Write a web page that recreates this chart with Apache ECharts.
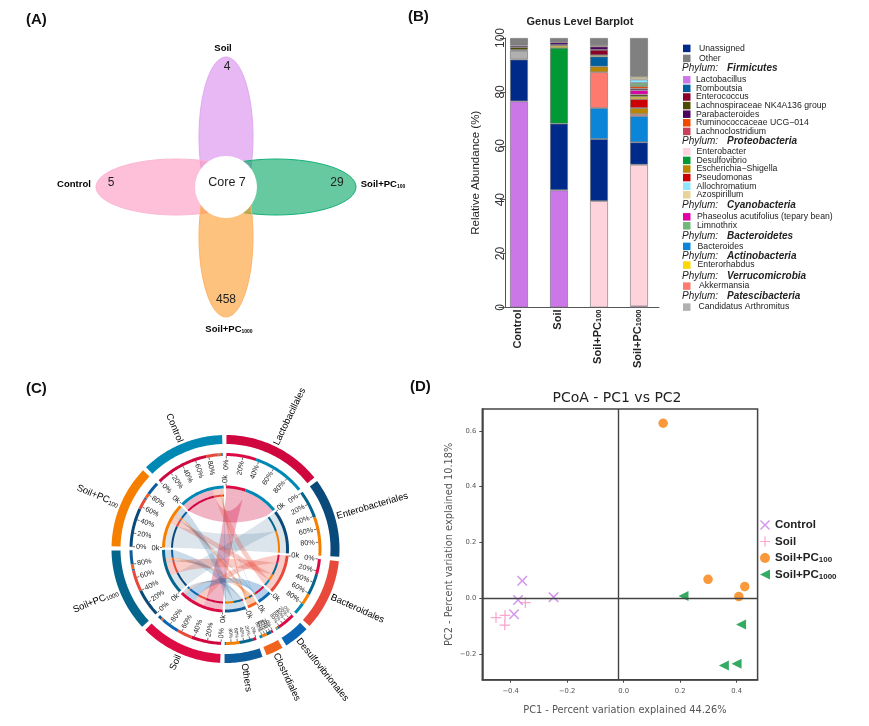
<!DOCTYPE html>
<html><head><meta charset="utf-8">
<style>html,body{margin:0;padding:0;background:#fff}#c{width:869px;height:726px}</style>
<script src="https://cdn.jsdelivr.net/npm/echarts@6/dist/echarts.min.js"></script>
</head><body><div id="c"></div>
<script>
// ---------- (A) Venn data
const vennNames = ['Soil', 'Control', 'Soil+PC100', 'Soil+PC1000'];
const vennCounts = [4, 5, 29, 458];
const vennCore = 7;
// ---------- (B) Barplot data
const barSamples = ['Control', 'Soil', 'Soil+PC100', 'Soil+PC1000'];
const lactobacillus = [76.5, 43.5, null, 0.4];
const enterobacter = [null, null, 39.5, 52.6];
const unassigned = [15.5, 24.7, 23, 8.3];
const desulfovibrio = [null, 28.1, null, null];
const bacteroides = [null, null, 11.5, 9.7];
const akkermansia = [null, null, 13.3, 0.8];
const candidatus = [3.3, null, null, null];
const escherichia = [null, null, 2.1, 2.2];
const romboutsia = [null, null, 3.7, null];
const pseudomonas = [null, null, null, 3.3];
const enterorhabdus = [0.3, 0.8, 0.5, 0.9];
const lachnospiraceae = [1.0, 0.3, null, 0.8];
const enterococcus = [null, null, 2, null];
const phaseolus = [null, null, null, 1.6];
const parabacteroides = [0.6, 1.0, 1.2, 0.6];
const lachnoclostridium = [null, null, 0.5, null];
const ruminococcaceae = [null, null, null, 0.9];
const limnothrix = [null, null, null, 1.2];
const allochromatium = [null, null, null, 1.3];
const azospirillum = [null, null, null, 1.0];
const other = [2.8, 1.6, 2.7, 14.4];
const yTicksBar = [0, 20, 40, 60, 80, 100];
// ---------- (C) Chord data
const taxa = ['Lactobacillales', 'Enterobacteriales', 'Bacteroidales', 'Desulfovibrionales', 'Clostridiales', 'Others'];
const samples = ['Soil', 'Soil+PC1000', 'Soil+PC100', 'Control'];
const lactoLinks = [43.5, 0, 0, 76.5];
const enteroLinks = [0, 40, 56, 0];
const bacteroLinks = [22, 31, 16, 17];
const desulfoLinks = [26, 2, 2, 1];
const clostrLinks = [3, 7, 7, 4];
const othersLinks = [5, 20, 19, 2];
const ringPercents = [0, 20, 40, 60, 80];
// ---------- (D) PCoA data
const pcoaControl = [[-0.359, 0.063], [-0.374, -0.006], [-0.388, -0.057], [-0.248, 0.004]];
const pcoaSoil = [[-0.452, -0.069], [-0.42, -0.061], [-0.421, -0.096], [-0.348, -0.016]];
const pcoaPC100 = [[0.14, 0.627], [0.299, 0.068], [0.429, 0.042], [0.408, 0.006]];
const pcoaPC1000 = [[0.212, 0.008], [0.416, -0.094], [0.40, -0.235], [0.355, -0.241]];
const pcoaXTicks = [-0.4, -0.2, 0, 0.2, 0.4];
const pcoaYTicks = [-0.2, 0, 0.2, 0.4, 0.6];
const pcoaCrossX = -0.024, pcoaCrossY = 0;

// ---------- styles and layout
const SANS = '"Liberation Sans", Arial, sans-serif', DEJA = '"DejaVu Sans", sans-serif';
const subRich = (size, sub, weight, color) => ({
  m: {fontSize: size, fontFamily: SANS, fontWeight: weight, color},
  s: {fontSize: sub, fontFamily: SANS, fontWeight: weight, color, verticalAlign: 'bottom', padding: [0, 0, 0, 0]}
});
const subText = n => {
  const m = /^Soil\+PC(\d+)$/.exec(n);
  return m ? '{m|Soil+PC}{s|' + m[1] + '}' : '{m|' + n + '}';
};
const vennFill = ['rgba(215,137,235,.6)', 'rgba(252,150,190,.6)', 'rgba(0,165,97,.6)', 'rgba(252,153,40,.6)'];
const vennStroke = ['#e0a8f0', '#fbb8d2', '#14b078', '#fdb468'];
const vennEllipse = [[0, 50, 27, 80], [-50, 0, 80, 28], [50, 0, 80, 28], [0, -50, 27, 80]];
const vennCountPos = [[1, 120], [-115, 4], [111, 4], [0, -113]];
const vennNamePos = [[-3, 139], [-152, 3], [157, 3], [3, -142]];

const genusTable = [
  ['Lactobacillus', lactobacillus, '#cc77e8'], ['Enterobacter', enterobacter, '#ffd3dc'],
  ['Unassigned', unassigned, '#002a8a'], ['Desulfovibrio', desulfovibrio, '#009933'],
  ['Bacteroides', bacteroides, '#0a85d8'], ['Akkermansia', akkermansia, '#ff7a6e'],
  ['Candidatus Arthromitus', candidatus, '#b0b0b0'], ['Escherichia\u2212Shigella', escherichia, '#b88600'],
  ['Romboutsia', romboutsia, '#005f9e'], ['Pseudomonas', pseudomonas, '#cc0000'],
  ['Enterorhabdus', enterorhabdus, '#ffd700'], ['Lachnospiraceae NK4A136 group', lachnospiraceae, '#4a4a00'],
  ['Enterococcus', enterococcus, '#8b0028'], ['Phaseolus acutifolius (tepary bean)', phaseolus, '#e000a8'],
  ['Parabacteroides', parabacteroides, '#4b0060'], ['Lachnoclostridium', lachnoclostridium, '#c8405a'],
  ['Ruminococcaceae UCG\u2212014', ruminococcaceae, '#f04a00'], ['Limnothrix', limnothrix, '#6db87a'],
  ['Allochromatium', allochromatium, '#8fe5ff'], ['Azospirillum', azospirillum, '#e8d49a'],
  ['Other', other, '#808080']
];
// each group: names, centre of first row, row pitch, extra text indent
const legendGroups = [
  [['Unassigned', 'Other'], 48.3, 10, 3.5],
  [['Lactobacillus', 'Romboutsia', 'Enterococcus', 'Lachnospiraceae NK4A136 group', 'Parabacteroides', 'Ruminococcaceae UCG\u2212014', 'Lachnoclostridium'], 79.7, 8.6, 0.5],
  [['Enterobacter', 'Desulfovibrio', 'Escherichia\u2212Shigella', 'Pseudomonas', 'Allochromatium', 'Azospirillum'], 151.7, 8.6, 1],
  [['Phaseolus acutifolius (tepary bean)', 'Limnothrix'], 216.7, 9, 1.5],
  [['Bacteroides'], 246.3, 9, 2], [['Enterorhabdus'], 265, 9, 2], [['Akkermansia'], 286, 9, 3.5], [['Candidatus Arthromitus'], 307, 9, 3]
];
const phylumHeaders = [['Firmicutes', 68.7], ['Proteobacteria', 141.7], ['Cyanobacteria', 205], ['Bacteroidetes', 236.3],
  ['Actinobacteria', 256], ['Verrucomicrobia', 276.3], ['Patescibacteria', 296.7]];

// ---------- chord layout, computed from the link table
const linkRows = [lactoLinks, enteroLinks, bacteroLinks, desulfoLinks, clostrLinks, othersLinks];
const taxaColor = ['#d0063f', '#0a4a7a', '#e8493a', '#0a66b5', '#f0641e', '#0d5c9c'];
const sampleColor = ['#dc0b43', '#05668d', '#f77f00', '#0088b5'];
const ribbonAlpha = [.3, .14, .28, .3, .34, .22];
const rgba = (hex, a) => 'rgba(' + [1, 3, 5].map(i => parseInt(hex.substr(i, 2), 16)).join(',') + ',' + a + ')';
const GAP = 2.2, START = 0.5;
const sum = a => a.reduce((x, y) => x + y, 0);
const taxaTot = linkRows.map(sum), sampleTot = samples.map((_, j) => sum(linkRows.map(r => r[j])));
const unit = (360 - 10 * GAP) / (sum(taxaTot) + sum(sampleTot));
const sectors = []; let ang = START;
taxa.forEach((n, i) => { sectors.push({n, a1: ang, a2: ang + taxaTot[i] * unit, c: taxaColor[i]}); ang += taxaTot[i] * unit + GAP; });
samples.forEach((n, j) => { sectors.push({n, a1: ang, a2: ang + sampleTot[j] * unit, c: sampleColor[j]}); ang += sampleTot[j] * unit + GAP; });
const links = [], rings = [];
const sampleCursor = samples.map((_, j) => sectors[taxa.length + j].a1);
taxa.forEach((n, i) => {
  let cur = sectors[i].a1;
  samples.forEach((s, j) => {
    const v = linkRows[i][j]; if (!v) return;
    const w = v * unit;
    links.push({t: i, s: j, a1: cur, a2: cur + w, b1: sampleCursor[j], b2: sampleCursor[j] + w, v});
    cur += w; sampleCursor[j] += w;
  });
});
links.forEach(l => {
  rings.push([93, 96, l.a1, l.a2, sampleColor[l.s]]);
  rings.push([93, 96, l.b1, l.b2, taxaColor[l.t]]);
  if (l.t === 0) rings.push([60.5, 63.5, l.a1, l.a2, sampleColor[l.s]]);
  else rings.push([52.5, 54.5, l.a1, l.a2, sampleColor[l.s]]);
  rings.push([52.5, 54.5, l.b1, l.b2, taxaColor[l.t]]);
});
sectors.forEach((s, i) => {
  rings.push([105, 114, s.a1, s.a2, s.c]);
  if (i !== 0) rings.push([60.5, 63.5, s.a1, s.a2, s.c]);
});
const chordTexts = [], chordTicks = [];
sectors.forEach((s, i) => {
  const mid = (s.a1 + s.a2) / 2, small = (i >= 3 && i <= 5);
  chordTexts.push({r: 116, a: mid, text: s.n, size: 9.5, rich: true});
  chordTexts.push({r: 66, a: s.a1 - 0.8, text: '0k', size: 7.5, ok: true});
  chordTicks.push([63.5, 65.5, s.a1]);
  ringPercents.forEach(p => {
    const a = s.a1 + (s.a2 - s.a1) * p / 100;
    chordTexts.push({r: 89.5, a, text: p + '%', size: small ? 5 : 7.2, pct: true});
    chordTicks.push([90.5, 93, a]);
  });
});

const pts = (api, r, a1, a2) => {
  const out = [], n = Math.max(2, Math.ceil(Math.abs(a2 - a1)));
  for (let k = 0; k <= n; k++) out.push(api.coord([r, a1 + (a2 - a1) * k / n]));
  return out;
};
const bez = (p0, c, p1) => {
  const out = [];
  for (let k = 1; k < 30; k++) {
    const t = k / 30, u = 1 - t;
    out.push([u * u * p0[0] + 2 * u * t * c[0] + t * t * p1[0], u * u * p0[1] + 2 * u * t * c[1] + t * t * p1[1]]);
  }
  return out;
};
const ctrl = (o, p, q) => [o[0] + ((p[0] + q[0]) / 2 - o[0]) * .5, o[1] + ((p[1] + q[1]) / 2 - o[1]) * .5];
const LEFT_TRIANGLE = 'path://M10,0L10,10L0,5Z';

const option = {
  animation: false,
  backgroundColor: '#ffffff',
  textStyle: {fontFamily: SANS},
  title: [
    {text: 'Genus Level Barplot', left: 580, top: 16, textAlign: 'center', padding: 0,
      textStyle: {fontSize: 11, fontWeight: 'bold', color: '#222', fontFamily: SANS}},
    {text: 'PCoA - PC1 vs PC2', left: 617, top: 391, textAlign: 'center', padding: 0,
      textStyle: {fontSize: 14, fontWeight: 'normal', color: '#222', fontFamily: DEJA}}
  ],
  grid: [
    {left: 96, top: 57, width: 260, height: 260, show: false},
    {left: 499, top: 38, width: 160, height: 269.5, show: false},
    {left: 482.3, top: 409, width: 275.3, height: 270.7, show: true, borderColor: '#444', borderWidth: 1.5, backgroundColor: '#fff'}
  ],
  xAxis: [
    {gridIndex: 0, type: 'value', min: -130, max: 130, show: false},
    {gridIndex: 1, type: 'category', data: barSamples,
      axisLine: {lineStyle: {color: '#555', width: 1}}, axisTick: {show: false},
      axisLabel: {rotate: 90, margin: 2, interval: 0, color: '#222', padding: [0, 0, 3, 0], formatter: subText, rich: subRich(11, 7.5, 'bold', '#222')}},
    {gridIndex: 2, type: 'value', min: -0.5005, max: 0.4745, splitLine: {show: false},
      name: 'PC1 - Percent variation explained 44.26%', nameLocation: 'middle', nameGap: 26,
      nameTextStyle: {fontSize: 9.8, color: '#555', fontFamily: DEJA, padding: [0, 0, 0, 10]},
      axisLine: {onZero: false, lineStyle: {color: '#444', width: 1.5}},
      axisTick: {customValues: pcoaXTicks, length: 3, lineStyle: {color: '#444'}},
      axisLabel: {customValues: pcoaXTicks, fontSize: 6.8, color: '#555', fontFamily: DEJA, margin: 8,
        formatter: v => v.toFixed(1).replace('-', '\u2212')}}
  ],
  yAxis: [
    {gridIndex: 0, type: 'value', min: -130, max: 130, show: false},
    {gridIndex: 1, type: 'value', min: 0, max: 100, interval: 20, offset: -6, splitLine: {show: false},
      name: 'Relative Abundance (%)', nameLocation: 'middle', nameGap: 23,
      nameTextStyle: {fontSize: 11.5, color: '#222', fontFamily: SANS},
      axisLine: {show: true, lineStyle: {color: '#555'}},
      axisTick: {show: true, length: 5, lineStyle: {color: '#555'}},
      axisLabel: {rotate: 90, fontSize: 12, color: '#333', margin: 4, fontFamily: SANS,
        customValues: yTicksBar, verticalAlign: 'middle', align: 'center'}},
    {gridIndex: 2, type: 'value', min: -0.2917, max: 0.678, splitLine: {show: false},
      name: 'PC2 - Percent variation explained 10.18%', nameLocation: 'middle', nameGap: 28,
      nameTextStyle: {fontSize: 9.8, color: '#555', fontFamily: DEJA},
      axisLine: {onZero: false, lineStyle: {color: '#444', width: 1.5}},
      axisTick: {customValues: pcoaYTicks, length: 3, lineStyle: {color: '#444'}},
      axisLabel: {customValues: pcoaYTicks, fontSize: 6.8, color: '#555', fontFamily: DEJA, margin: 6,
        formatter: v => v.toFixed(1).replace('-', '\u2212')}}
  ],
  polar: {center: [225.5, 549], radius: [0, 114]},
  radiusAxis: {type: 'value', min: 0, max: 114, show: false},
  angleAxis: {type: 'value', min: 0, max: 360, startAngle: 90, clockwise: true, show: false},
  legend: legendGroups.flatMap(g => g[0].map((name, k) => ({
    data: [name], selectedMode: false, orient: 'vertical', left: 683, top: g[1] + k * g[2] - 4.4, padding: 0,
    itemWidth: 7.5, itemHeight: 7.5, icon: 'rect',
    itemStyle: {borderWidth: 0},
    textStyle: {fontSize: 8.7, color: '#222', fontFamily: SANS, lineHeight: 9, fontWeight: 500, padding: [0, 0, 0, g[3]]}
  }))).concat([{
    data: ['Control', 'Soil', 'Soil+PC100', 'Soil+PC1000'].map(n => ({name: n + ' '})),
    selectedMode: false, orient: 'vertical', left: 760, top: 519, padding: 0,
    itemWidth: 10, itemHeight: 11, itemGap: 4.5,
    formatter: n => subText(n.trim()),
    textStyle: {fontSize: 11.5, fontWeight: 'bold', color: '#222', rich: subRich(11.5, 8, 'bold', '#222')}
  }]),
  graphic: [
    ...[['(A)', 26, 20], ['(B)', 408, 17], ['(C)', 26, 389], ['(D)', 410, 387]].map(p => ({
      type: 'text', x: p[1], y: p[2],
      style: {text: p[0], fill: '#111', font: 'bold 15px ' + SANS, verticalAlign: 'middle'}})),
    ...phylumHeaders.flatMap(h => [
      {type: 'text', x: 682, y: h[1], style: {text: 'Phylum:', fill: '#222', font: 'italic 500 10px ' + SANS, verticalAlign: 'middle'}},
      {type: 'text', x: 727, y: h[1], style: {text: h[0], fill: '#222', font: 'italic bold 10px ' + SANS, verticalAlign: 'middle'}}
    ])
  ],
  series: [
    // ----- A: ellipses
    {type: 'custom', name: 'venn', coordinateSystem: 'cartesian2d', xAxisIndex: 0, yAxisIndex: 0, silent: true,
      data: vennCounts.map((v, i) => [vennEllipse[i][0], vennEllipse[i][1], v]),
      renderItem(params, api) {
        const i = params.dataIndex, e = vennEllipse[i];
        const c = api.coord([e[0], e[1]]), s = api.size([e[2], e[3]]);
        const np = api.coord(vennNamePos[i]), cp = api.coord(vennCountPos[i]);
        return {type: 'group', children: [
          {type: 'ellipse', shape: {cx: c[0], cy: c[1], rx: s[0], ry: s[1]},
            style: {fill: vennFill[i], stroke: vennStroke[i], lineWidth: 1}},
          {type: 'text', x: cp[0], y: cp[1], z2: 5, style: {text: String(api.value(2)), fill: '#222', font: '500 12px ' + SANS, align: 'center', verticalAlign: 'middle'}},
          {type: 'text', x: np[0], y: np[1], z2: 5, style: {text: subText(vennNames[i]), align: 'center', verticalAlign: 'middle',
            rich: subRich(9.5, 5, 'bold', '#333')}}
        ]};
      }},
    {type: 'custom', name: 'core', coordinateSystem: 'cartesian2d', xAxisIndex: 0, yAxisIndex: 0, silent: true, z: 3,
      data: [[0, 0, vennCore]],
      renderItem(params, api) {
        const c = api.coord([0, 0]), r = api.size([31, 31]), t = api.coord([1, 4]);
        return {type: 'group', children: [
          {type: 'circle', shape: {cx: c[0], cy: c[1], r: r[0]}, style: {fill: '#fff'}},
          {type: 'text', x: t[0], y: t[1], z2: 5, style: {text: 'Core ' + api.value(2), fill: '#222', font: '500 12.5px ' + SANS, align: 'center', verticalAlign: 'middle'}}
        ]};
      }},
    // ----- B: stacked bars
    ...genusTable.map(g => ({
      type: 'bar', name: g[0], stack: 'genus', xAxisIndex: 1, yAxisIndex: 1, data: g[1], barWidth: 18, silent: true,
      itemStyle: {color: g[2], borderColor: 'rgba(110,110,110,.75)', borderWidth: 0.8}
    })),
    // ----- C: ribbons, rings, ticks, labels
    {type: 'custom', name: 'ribbons', coordinateSystem: 'polar', silent: true,
      data: links.map(l => [l.t, l.s, l.v]),
      renderItem(params, api) {
        const l = links[params.dataIndex], o = api.coord([0, 0]);
        const A = pts(api, 53, l.a1, l.a2), B = pts(api, 53, l.b1, l.b2);
        const aEnd = A[A.length - 1], bEnd = B[B.length - 1];
        const ribbon = A.concat(bez(aEnd, ctrl(o, aEnd, B[0]), B[0]), B, bez(bEnd, ctrl(o, bEnd, A[0]), A[0]));
        const fill = rgba(taxaColor[l.t], ribbonAlpha[l.t]);
        return {type: 'group', children: [
          {type: 'polygon', shape: {points: ribbon}, style: {fill}},
          {type: 'polygon', shape: {points: pts(api, 60.5, l.a1, l.a2).concat(pts(api, 53, l.a2, l.a1))}, style: {fill}},
          {type: 'polygon', shape: {points: pts(api, 60.5, l.b1, l.b2).concat(pts(api, 53, l.b2, l.b1))}, style: {fill}}
        ]};
      }},
    {type: 'custom', name: 'rings', coordinateSystem: 'polar', silent: true, z: 3,
      data: rings.map(r => r.slice(0, 4)),
      renderItem(params, api) {
        const r = rings[params.dataIndex];
        return {type: 'polygon', shape: {points: pts(api, r[1], r[2], r[3]).concat(pts(api, r[0], r[3], r[2]))}, style: {fill: r[4]}};
      }},
    {type: 'custom', name: 'ticks', coordinateSystem: 'polar', silent: true, z: 3,
      data: chordTicks,
      renderItem(params, api) {
        const t = chordTicks[params.dataIndex], p = api.coord([t[0], t[2]]), q = api.coord([t[1], t[2]]);
        return {type: 'line', shape: {x1: p[0], y1: p[1], x2: q[0], y2: q[1]}, style: {stroke: '#333', lineWidth: .7}};
      }},
    {type: 'custom', name: 'chordLabels', coordinateSystem: 'polar', silent: true, z: 4,
      data: chordTexts.map(t => [t.r, t.a]),
      renderItem(params, api) {
        const t = chordTexts[params.dataIndex], p = api.coord([t.r, t.a]);
        const right = t.a < 180;
        const deg = right ? 90 - t.a : 270 - t.a;
        let align = right ? 'left' : 'right';
        if (t.pct) align = right ? 'right' : 'left';
        const style = t.rich
          ? {text: subText(t.text), rich: subRich(9.5, 6, 'normal', '#222'), align, verticalAlign: 'middle'}
          : {text: t.text, fill: '#222', font: t.size + 'px ' + SANS, align, verticalAlign: 'middle'};
        return {type: 'text', x: p[0], y: p[1], rotation: deg * Math.PI / 180, style};
      }},
    // ----- D: scatter
    {type: 'scatter', name: 'Control ', xAxisIndex: 2, yAxisIndex: 2, data: pcoaControl, symbolSize: 10.5, silent: true,
      symbol: 'path://M1,0L5,4L9,0L10,1L6,5L10,9L9,10L5,6L1,10L0,9L4,5L0,1Z', itemStyle: {color: '#c77be8'},
      markLine: {silent: true, symbol: 'none', label: {show: false}, animation: false,
        lineStyle: {color: '#444', width: 1.4, type: 'solid'},
        data: [{xAxis: pcoaCrossX}, {yAxis: pcoaCrossY}]}},
    {type: 'scatter', name: 'Soil ', xAxisIndex: 2, yAxisIndex: 2, data: pcoaSoil, symbolSize: 10.5, silent: true,
      symbol: 'path://M4.4,0h1.2v4.4h4.4v1.2h-4.4v4.4h-1.2v-4.4h-4.4v-1.2h4.4z', itemStyle: {color: '#fb8fc0'}},
    {type: 'scatter', name: 'Soil+PC100 ', xAxisIndex: 2, yAxisIndex: 2, data: pcoaPC100, symbolSize: 9.5, silent: true,
      symbol: 'circle', itemStyle: {color: '#f77f0a'}},
    {type: 'scatter', name: 'Soil+PC1000 ', xAxisIndex: 2, yAxisIndex: 2, data: pcoaPC1000, symbolSize: 10, silent: true,
      symbol: LEFT_TRIANGLE, itemStyle: {color: '#00963c'}}
  ]
};
const chart = echarts.init(document.getElementById('c'), null, {renderer: 'canvas', width: 869, height: 726});
chart.setOption(option);
</script></body></html>
